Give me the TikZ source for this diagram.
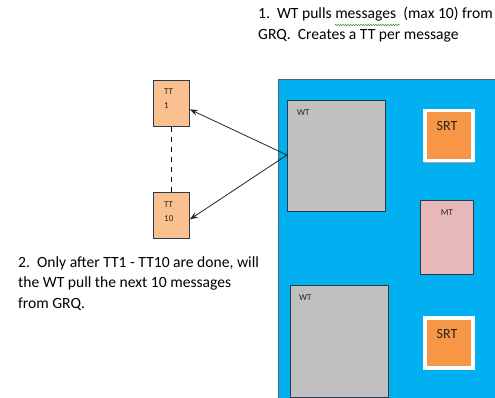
\documentclass[tikz,border=0pt]{standalone}
\usepackage{fontspec}
\setmainfont{Carlito}
\usepackage{xcolor}
\definecolor{cHost}{HTML}{00B0F0}
\definecolor{cLine}{HTML}{2B3A4A}
\definecolor{cWT}{HTML}{C0C0C0}
\definecolor{cSRT}{HTML}{F79646}
\definecolor{cMT}{HTML}{E6B9B8}
\definecolor{cTT}{HTML}{FAC090}
\definecolor{cSpell}{HTML}{3C9A3C}
\usetikzlibrary{arrows.meta,decorations.pathmorphing}
\tikzset{
  node-host/.style={draw=cLine!80,fill=cHost,line width=1pt,anchor=north west},
  node-wt/.style={draw=cLine,fill=cWT,line width=1pt,anchor=north west},
  node-srt/.style={draw=white,fill=cSRT,line width=3.5pt,anchor=north west},
  node-mt/.style={draw=cLine,fill=cMT,line width=1pt,anchor=north west},
  node-tt/.style={draw=cLine,fill=cTT,line width=0.8pt,anchor=north west},
  tag-small/.style={font=\fontsize{9}{10}\selectfont,text=black!85,inner sep=0pt,align=left},
  tag-srt/.style={font=\fontsize{14}{16}\selectfont,text=black!85,inner sep=0pt},
  note/.style={font=\fontsize{15.6}{20.5}\selectfont,align=left,inner sep=0pt,anchor=north west},
  arrow/.style={-{Stealth[length=8pt,width=6pt]},line width=0.8pt,draw=black!85},
  link-dashed/.style={line width=0.8pt,dash pattern=on 5pt off 5pt,draw=black},
}

\begin{document}
\begin{tikzpicture}[x=1pt,y=-1pt]
  \useasboundingbox (0,0) rectangle (495,398);
  \clip (0,0) rectangle (495,398);
  % host
  \node[node-host,minimum width=230pt,minimum height=330pt] (host) at (278,79) {};
  % worker threads
  \node[node-wt,minimum width=98pt,minimum height=111pt] (wt1) at (287,100) {};
  \node[tag-small,anchor=west] (wt1-tag) at (297,113) {WT};
  \node[node-wt,minimum width=98pt,minimum height=112pt] (wt2) at (290,285) {};
  \node[tag-small,anchor=west] (wt2-tag) at (299,298) {WT};
  % SRT / MT
  \fill[black!35] (424,110) rectangle (474,163);
  \node[node-srt,minimum width=48pt,minimum height=50pt] (srt1) at (423,109) {};
  \node[tag-srt] (srt1-tag) at (447,126) {SRT};
  \node[node-mt,minimum width=53pt,minimum height=74pt] (mt) at (420,200) {};
  \node[tag-small,anchor=center] (mt-tag) at (447,213) {MT};
  \fill[black!35] (424,317) rectangle (474,370);
  \node[node-srt,minimum width=48pt,minimum height=50pt] (srt2) at (423,316) {};
  \node[tag-srt] (srt2-tag) at (447,334) {SRT};
  % temp threads
  \node[node-tt,minimum width=36pt,minimum height=46pt] (tt1) at (153,80) {};
  \node[tag-small,anchor=north west] (tt1-tag) at (164,89) {TT\\[4pt]1};
  \node[node-tt,minimum width=36pt,minimum height=46pt] (tt10) at (153,192) {};
  \node[tag-small,anchor=north west] (tt10-tag) at (164,202) {TT\\[4pt]10};
  \draw[link-dashed] (tt1.south) -- (tt10.north);
  \coordinate (fork) at ([yshift=1pt]wt1.west);
  \draw[arrow] (fork) -- ([yshift=-6pt]tt1.east);
  \draw[arrow] (fork) -- ([yshift=-4pt]tt10.east);
  % notes
  \node[note] (note1) at (258,7) {1.\ \ WT pulls messages\ \ (max 10) from\\GRQ.\ \ Creates a TT per message};
  \draw[cSpell,line width=0.5pt,decorate,decoration={snake,amplitude=0.8pt,segment length=2.5pt}]
    (335,25) -- (400,25);
  \node[note] (note2) at (18,256) {2.\ \ Only after TT1 - TT10 are done, will\\the WT pull the next 10 messages\\from GRQ.};
\end{tikzpicture}
\end{document}
